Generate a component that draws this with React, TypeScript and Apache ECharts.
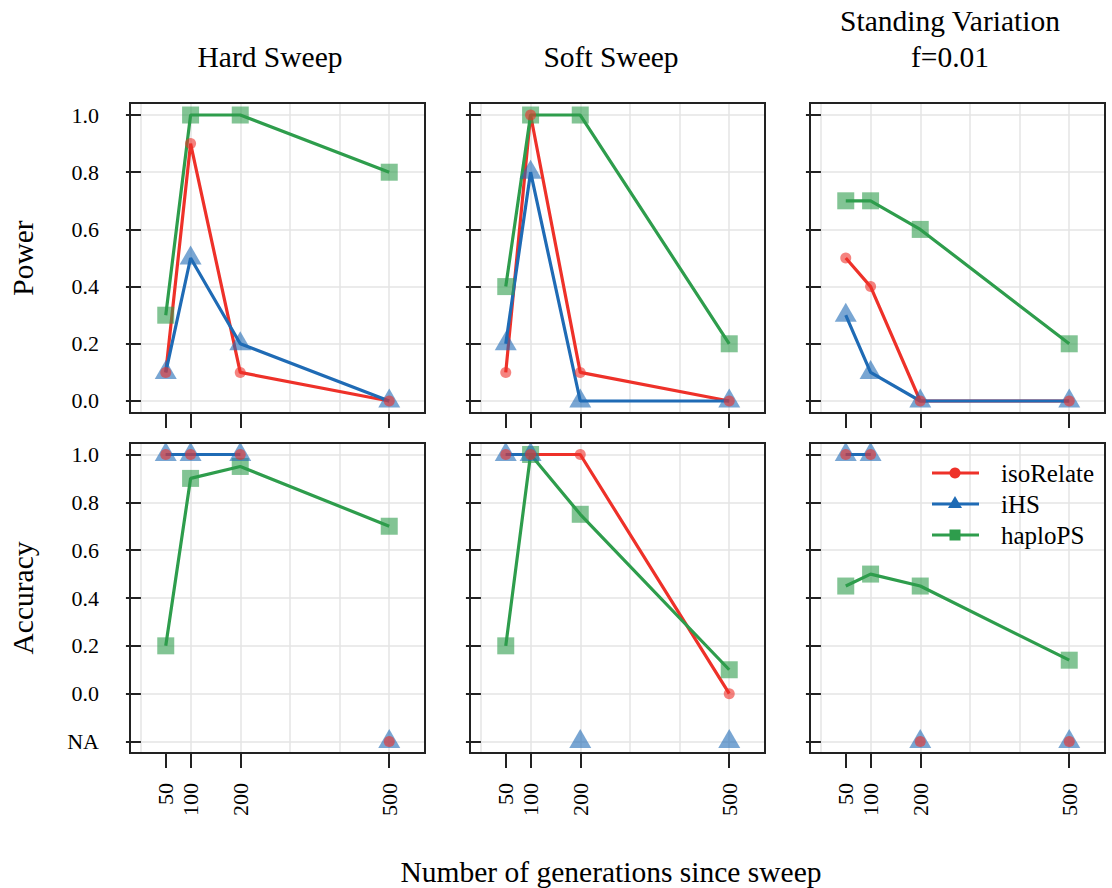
import React, { useEffect, useRef } from 'react';
import * as echarts from 'echarts';

// ---------- data ----------
const GENERATIONS = [50, 100, 200, 500];
const METHODS = ['isoRelate', 'iHS', 'haploPS'];
const COLUMN_TITLES = [['Hard Sweep'], ['Soft Sweep'], ['Standing Variation', 'f=0.01']];
const ROW_TITLES = ['Power', 'Accuracy'];
const X_TITLE = 'Number of generations since sweep';

// Power (row 1)
const POWER_HARD_ISORELATE = [0.1, 0.9, 0.1, 0.0];
const POWER_HARD_IHS = [0.1, 0.5, 0.2, 0.0];
const POWER_HARD_HAPLOPS = [0.3, 1.0, 1.0, 0.8];
const POWER_SOFT_ISORELATE = [0.1, 1.0, 0.1, 0.0];
const POWER_SOFT_IHS = [0.2, 0.8, 0.0, 0.0];
const POWER_SOFT_HAPLOPS = [0.4, 1.0, 1.0, 0.2];
const POWER_STANDING_ISORELATE = [0.5, 0.4, 0.0, 0.0];
const POWER_STANDING_IHS = [0.3, 0.1, 0.0, 0.0];
const POWER_STANDING_HAPLOPS = [0.7, 0.7, 0.6, 0.2];

// Accuracy (row 2), null = NA
const ACC_HARD_ISORELATE = [1.0, 1.0, 1.0, null];
const ACC_HARD_IHS = [1.0, 1.0, 1.0, null];
const ACC_HARD_HAPLOPS = [0.2, 0.9, 0.95, 0.7];
const ACC_SOFT_ISORELATE = [1.0, 1.0, 1.0, 0.0];
const ACC_SOFT_IHS = [1.0, 1.0, null, null];
const ACC_SOFT_HAPLOPS = [0.2, 1.0, 0.75, 0.1];
const ACC_STANDING_ISORELATE = [1.0, 1.0, null, null];
const ACC_STANDING_IHS = [1.0, 1.0, null, null];
const ACC_STANDING_HAPLOPS = [0.45, 0.5, 0.45, 0.14];

const PANELS: (number | null)[][][] = [
  [POWER_HARD_ISORELATE, POWER_HARD_IHS, POWER_HARD_HAPLOPS],
  [POWER_SOFT_ISORELATE, POWER_SOFT_IHS, POWER_SOFT_HAPLOPS],
  [POWER_STANDING_ISORELATE, POWER_STANDING_IHS, POWER_STANDING_HAPLOPS],
  [ACC_HARD_ISORELATE, ACC_HARD_IHS, ACC_HARD_HAPLOPS],
  [ACC_SOFT_ISORELATE, ACC_SOFT_IHS, ACC_SOFT_HAPLOPS],
  [ACC_STANDING_ISORELATE, ACC_STANDING_IHS, ACC_STANDING_HAPLOPS],
];

const NA_VALUE = -0.2;
const X_TICKS = [50, 100, 200, 500];
const X_GRID = [0, 100, 200, 300, 400, 500];
const POWER_TICKS = [0, 0.2, 0.4, 0.6, 0.8, 1.0];
const ACC_TICKS = [-0.2, 0, 0.2, 0.4, 0.6, 0.8, 1.0];
const Y_TICKS = [POWER_TICKS, ACC_TICKS];
const X_RANGE = [-22, 572];
const Y_RANGES = [
  [-0.042, 1.042],
  [-0.248, 1.048],
];

// ---------- style ----------
const FONT = "'Liberation Serif', 'Times New Roman', serif";
const COLORS = ['#EE3129', '#1F6BB5', '#2E9D4C'];
const SYMBOLS = ['circle', 'triangle', 'rect'];
const SYMBOL_SIZES: any[] = [11, [22, 19], 17];
const SYMBOL_OFFSETS = [[0, 0], [0, -3], [0, 0]];
const GRID_LEFT = [130, 470, 810];
const GRID_TOP = [103, 443];
const GRID_W = 295;
const GRID_H = 310;
const AXIS_COLOR = '#222';
const GRID_COLOR = '#e4e4e4';

export default function App() {
  const ref = useRef<HTMLDivElement>(null);
  useEffect(() => {
    const chart = echarts.init(ref.current!, null, { renderer: 'svg' });
    const grids: any[] = [];
    const xAxes: any[] = [];
    const yAxes: any[] = [];
    const lineSeries: any[] = [];
    const pointSeries: any[] = [];

    PANELS.forEach((panel, p) => {
      const row = Math.floor(p / 3);
      const col = p % 3;
      grids.push({
        left: GRID_LEFT[col],
        top: GRID_TOP[row],
        width: GRID_W,
        height: GRID_H,
        show: true,
        borderColor: AXIS_COLOR,
        borderWidth: 2,
        backgroundColor: 'transparent',
        z: 3,
      });
      // gridline axis
      xAxes.push({
        type: 'value',
        gridIndex: p,
        min: X_RANGE[0],
        max: X_RANGE[1],
        position: 'top',
        axisLine: { show: false },
        axisTick: { show: false, customValues: X_GRID },
        axisLabel: { show: false, customValues: X_GRID },
        splitLine: { show: true, lineStyle: { color: GRID_COLOR, width: 1.5 } },
      });
      // tick axis
      xAxes.push({
        type: 'value',
        gridIndex: p,
        min: X_RANGE[0],
        max: X_RANGE[1],
        position: 'bottom',
        axisLine: { show: false },
        axisTick: {
          show: true,
          customValues: X_TICKS,
          length: 15,
          lineStyle: { color: AXIS_COLOR, width: 2 },
        },
        axisLabel: {
          show: row === 1,
          customValues: X_TICKS,
          rotate: 90,
          margin: 30,
          fontFamily: FONT,
          fontSize: 22,
          color: '#000',
        },
        splitLine: { show: false },
      });
      yAxes.push({
        type: 'value',
        gridIndex: p,
        min: Y_RANGES[row][0],
        max: Y_RANGES[row][1],
        axisLine: { show: false },
        axisTick: {
          show: true,
          customValues: Y_TICKS[row],
          length: 15,
          lineStyle: { color: AXIS_COLOR, width: 2 },
        },
        axisLabel: {
          show: col === 0,
          customValues: Y_TICKS[row],
          margin: 31,
          fontFamily: FONT,
          fontSize: 22,
          color: '#000',
          formatter: (v: number) => (v < -0.1 ? 'NA' : v.toFixed(1)),
        },
        splitLine: { show: true, lineStyle: { color: GRID_COLOR, width: 1.5 } },
      });

      panel.forEach((vals, m) => {
        lineSeries.push({
          type: 'line',
          name: METHODS[m],
          xAxisIndex: 2 * p + 1,
          yAxisIndex: p,
          data: GENERATIONS.map((g, i) => [g, vals[i] === null ? '-' : vals[i]]),
          symbol: 'none',
          showSymbol: false,
          connectNulls: false,
          lineStyle: { color: COLORS[m], width: 3.2 },
          silent: true,
          z: 2,
        });
      });
      [2, 1, 0].forEach((m) => {
        const vals = panel[m];
        pointSeries.push({
          type: 'scatter',
          name: METHODS[m],
          xAxisIndex: 2 * p + 1,
          yAxisIndex: p,
          data: GENERATIONS.map((g, i) => [g, vals[i] === null ? NA_VALUE : vals[i]]),
          symbol: SYMBOLS[m],
          symbolSize: SYMBOL_SIZES[m],
          symbolOffset: SYMBOL_OFFSETS[m],
          itemStyle: { color: COLORS[m], opacity: 0.6 },
          silent: true,
          z: 2,
        });
      });
    });

    const graphics: any[] = [];
    const textStyle = (text: string, size: number) => ({
      text,
      fill: '#000',
      font: `${size}px ${FONT}`,
      align: 'center',
      verticalAlign: 'middle',
      textAlign: 'center',
      textVerticalAlign: 'middle',
    });
    const TITLE_X = [270, 611, 950];
    COLUMN_TITLES.forEach((lines, c) => {
      lines.forEach((line, k) => {
        graphics.push({
          type: 'text',
          x: TITLE_X[c],
          y: 57 - (lines.length - 1 - k) * 36,
          style: textStyle(line, 29.5),
        });
      });
    });
    const ROW_Y = [258, 598];
    ROW_TITLES.forEach((t, r) => {
      graphics.push({
        type: 'text',
        x: 23,
        y: ROW_Y[r],
        rotation: Math.PI / 2,
        style: textStyle(t, 29.5),
      });
    });
    graphics.push({ type: 'text', x: 611, y: 872, style: textStyle(X_TITLE, 29.5) });

    // legend
    METHODS.forEach((name, m) => {
      const y = 473 + m * 31;
      const cx = 955;
      graphics.push({
        type: 'line',
        shape: { x1: 932, y1: y, x2: 979, y2: y },
        style: { stroke: COLORS[m], lineWidth: 3 },
        z: 10,
      });
      if (m === 0) {
        graphics.push({ type: 'circle', shape: { cx, cy: y, r: 5.5 }, style: { fill: COLORS[m] }, z: 10 });
      } else if (m === 1) {
        graphics.push({
          type: 'polygon',
          shape: { points: [[cx, y - 8], [cx + 7, y + 4], [cx - 7, y + 4]] },
          style: { fill: COLORS[m] },
          z: 10,
        });
      } else {
        graphics.push({ type: 'rect', shape: { x: cx - 5.5, y: y - 5.5, width: 11, height: 11 }, style: { fill: COLORS[m] }, z: 10 });
      }
      graphics.push({
        type: 'text',
        x: 1001,
        y,
        z: 10,
        style: { ...textStyle(name, 25), align: 'left', textAlign: 'left' },
      });
    });

    chart.setOption({
      animation: false,
      backgroundColor: '#fff',
      grid: grids,
      xAxis: xAxes,
      yAxis: yAxes,
      series: [...lineSeries, ...pointSeries],
      graphic: graphics,
    });
    return () => chart.dispose();
  }, []);
  return <div ref={ref} style={{ position: 'absolute', left: 0, top: 0, width: 1112, height: 888 }} />;
}
